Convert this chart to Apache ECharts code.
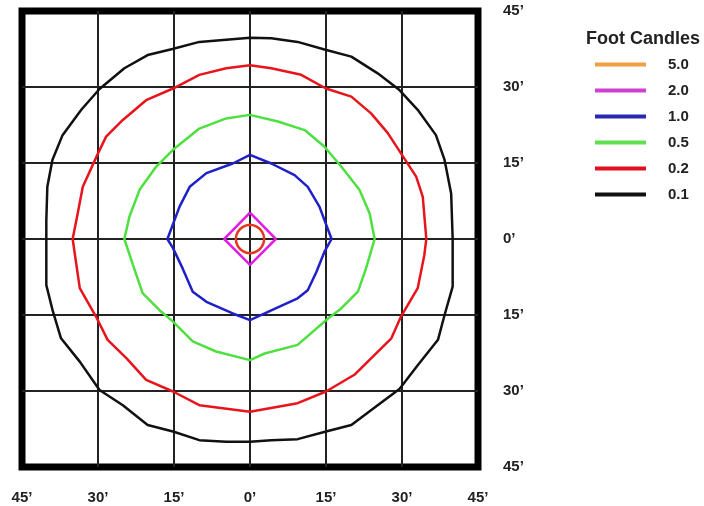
<!DOCTYPE html>
<html>
<head>
<meta charset="utf-8">
<script src="https://cdn.jsdelivr.net/npm/echarts@6/dist/echarts.min.js"></script>
<style>html,body{margin:0;padding:0;background:#fff}#c{width:704px;height:506px}</style>
</head>
<body>
<div id="c"></div>
<script>
// Contour levels (foot candles), legend order
const levels = ['5.0', '2.0', '1.0', '0.5', '0.2', '0.1'];
const levelColors = ['#e83420', '#e020e0', '#2020c8', '#4ee040', '#e8141c', '#111111'];
const legendColors = ['#f0a040', '#d040d0', '#2828b0', '#60e050', '#e01020', '#111111'];
// Axis ticks (feet)
const tickValues = [-45, -30, -15, 0, 15, 30, 45];

// Contour polygons [x ft, y ft]
const fc50 = [[0,2.8],[1.4,2.4],[2.4,1.4],[2.8,0],[2.4,-1.4],[1.4,-2.4],[0,-2.8],[-1.4,-2.4],[-2.4,-1.4],[-2.8,0],[-2.4,1.4],[-1.4,2.4],[0,2.8]];
const fc20 = [[0,5.2],[5.1,0],[0,-5.1],[-5.1,0],[0,5.2]];
const fc10 = [[0,16.6],[4.2,14.9],[8.8,12.6],[11.4,10.3],[13.7,6.4],[16.1,0],[14.7,-2.5],[13.1,-6.5],[11.4,-10.1],[9.4,-11.7],[2.9,-14.7],[0,-16],[-3.4,-14.7],[-8.6,-12.4],[-11.3,-10.4],[-13.3,-5.8],[-15.2,-1.8],[-16.3,0],[-13.9,6.4],[-11.9,10.3],[-8.6,13],[-3.4,14.9],[0,16.6]];
const fc05 = [[0,24.5],[5.5,23.2],[10.8,21.5],[14.7,18.2],[18,14.3],[21.6,9.7],[23.6,5.1],[24.6,0],[22.9,-5.8],[21.3,-10.4],[18,-13.7],[15.4,-15.7],[9.4,-20.9],[2.9,-22.6],[0,-23.9],[-6.7,-22.2],[-11.3,-20.2],[-15.2,-16.3],[-17.9,-14],[-21.2,-10.7],[-23.1,-5.1],[-24.8,0],[-23.8,4.4],[-21.8,9.7],[-18.5,14.3],[-15.2,17.6],[-10,21.8],[-4.7,23.8],[0,24.5]];
const fc02 = [[0,34.3],[4.2,33.7],[10.1,32.4],[15,29.7],[20,28.1],[23.9,24.8],[27.2,20.9],[29.8,16.9],[32.8,12.3],[34.1,8.3],[34.8,0],[34.4,-3.2],[33.1,-9.7],[29.8,-15.3],[27.9,-19.6],[20.6,-26.8],[15,-30.1],[9.4,-32.4],[0,-34.1],[-10,-32.8],[-15.2,-30.1],[-20.5,-27.8],[-24.4,-23.5],[-28.1,-19.9],[-30.4,-15.3],[-33.6,-9.7],[-35,0],[-34,5.1],[-33,10.3],[-30,16.9],[-28.4,20.2],[-25.1,23.5],[-20.5,27.4],[-15.2,29.7],[-10,32.4],[-4.7,33.7],[0,34.3]];
const fc01 = [[0,39.7],[4.2,39.6],[9.4,38.9],[14.7,37.4],[20,36],[25.2,32.7],[29.5,29.4],[33.1,25.5],[36.7,20.5],[38.4,15.6],[39.7,9],[40,0],[40,-9.4],[38.4,-15],[37.1,-19.9],[33.1,-24.9],[29.5,-29.6],[25.2,-32.8],[20,-36.7],[15,-38],[9.4,-39.5],[4.2,-39.7],[0,-40],[-4.7,-40],[-10,-39.7],[-15.2,-38],[-20.2,-36.7],[-25.1,-32.8],[-29.7,-29.8],[-33.6,-24.2],[-37.3,-19.6],[-38.9,-14.3],[-40.2,-9.1],[-40.2,0],[-40.2,3.7],[-40,10.3],[-39,15.6],[-37,20.5],[-33.3,25.5],[-29.7,29.6],[-24.8,33.7],[-20.2,36.3],[-15.3,37.5],[-10,38.9],[0,39.7]];
const contours = [fc50, fc20, fc10, fc05, fc02, fc01];

const FONT = '"Liberation Sans", Arial, sans-serif';
const fmt = v => Math.abs(v) + '\u2019';

const chart = echarts.init(document.getElementById('c'), null, {renderer: 'canvas'});
const axisCommon = {
  type: 'value', min: tickValues[0], max: tickValues[tickValues.length - 1], interval: 15,
  axisLine: {show: false}, axisTick: {show: false},
  splitLine: {show: true, showMinLine: false, showMaxLine: false, lineStyle: {color: '#222', width: 2}},
  axisLabel: {formatter: fmt, fontFamily: FONT, fontWeight: 'bold', fontSize: 15, color: '#222'}
};
chart.setOption({
  animation: false,
  title: {text: 'Foot Candles', left: 581, top: 25, textStyle: {fontFamily: FONT, fontWeight: 'bold', fontSize: 18, color: '#222'}},
  grid: {left: 22, top: 11, width: 456, height: 456, show: true, borderColor: '#000', borderWidth: 7, backgroundColor: 'transparent'},
  xAxis: Object.assign({}, axisCommon, {position: 'bottom', axisLabel: Object.assign({}, axisCommon.axisLabel, {margin: 23})}),
  yAxis: Object.assign({}, axisCommon, {position: 'right', axisLabel: Object.assign({}, axisCommon.axisLabel, {margin: 25, align: 'left'})}),
  legend: {
    orient: 'vertical', left: 590, top: 52, itemWidth: 51, itemHeight: 16, itemGap: 11,
    data: levels.map((l, i) => ({name: l, icon: 'path://M0,0 L51,0 L51,4 L0,4 Z', itemStyle: {color: legendColors[i]}})),
    textStyle: {fontFamily: FONT, fontWeight: 'bold', fontSize: 15, color: '#222', padding: [0, 0, 0, 17]}
  },
  series: levels.map((l, i) => ({
    name: l, type: 'line', data: contours[i], symbol: 'none', smooth: i === 0,
    lineStyle: {color: levelColors[i], width: 2.5}, itemStyle: {color: levelColors[i]}, z: 3
  }))
});
</script>
</body>
</html>
